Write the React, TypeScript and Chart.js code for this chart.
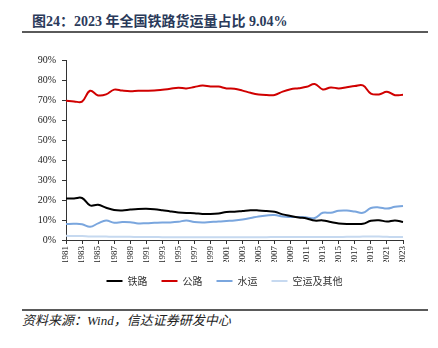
import React, { useEffect, useRef } from "react";
import { Chart, registerables } from "chart.js";

Chart.register(...registerables);

const years: string[] = [
  "1981","1982","1983","1984","1985","1986","1987","1988","1989","1990",
  "1991","1992","1993","1994","1995","1996","1997","1998","1999","2000",
  "2001","2002","2003","2004","2005","2006","2007","2008","2009","2010",
  "2011","2012","2013","2014","2015","2016","2017","2018","2019","2020",
  "2021","2022","2023",
];

const railway: number[] = [
  20.8, 20.8, 21.0, 17.3, 17.6, 16.1, 15.0, 14.8, 15.2, 15.5,
  15.6, 15.4, 14.9, 14.3, 13.8, 13.5, 13.4, 13.0, 13.0, 13.3,
  14.0, 14.1, 14.5, 14.9, 14.8, 14.5, 14.1, 12.8, 12.0, 11.3,
  10.8, 9.7, 9.8, 9.0, 8.3, 8.0, 8.0, 8.1, 9.6, 9.9,
  9.2, 9.8, 9.04,
];

const highway: number[] = [
  69.6, 69.3, 69.2, 74.6, 72.3, 72.8, 75.2, 74.7, 74.4, 74.6,
  74.6, 74.7, 75.1, 75.6, 76.1, 75.8, 76.5, 77.2, 76.8, 76.7,
  75.8, 75.6, 74.7, 73.6, 72.8, 72.5, 72.5, 74.2, 75.4, 75.9,
  76.6, 78.0, 75.3, 76.3, 75.8, 76.4, 77.0, 77.3, 73.2, 72.8,
  74.1, 72.4, 72.6,
];

const waterway: number[] = [
  8.0, 8.1, 7.9, 6.6, 8.3, 9.7, 8.6, 9.0, 8.9, 8.3,
  8.4, 8.6, 8.8, 8.8, 9.1, 9.8, 9.0, 8.8, 9.0, 9.2,
  9.5, 9.8, 10.3, 11.0, 11.8, 12.3, 12.5, 11.7, 11.5, 11.5,
  11.3, 11.0, 13.6, 13.6, 14.6, 14.7, 14.2, 13.6, 16.0, 16.3,
  15.7, 16.6, 17.0,
];

const airOther: number[] = [
  2.1, 2.0, 2.0, 1.8, 1.8, 1.7, 1.6, 1.6, 1.6, 1.5,
  1.5, 1.5, 1.4, 1.4, 1.4, 1.4, 1.4, 1.4, 1.4, 1.4,
  1.4, 1.4, 1.4, 1.4, 1.4, 1.4, 1.5, 1.5, 1.5, 1.5,
  1.5, 1.5, 1.5, 1.5, 1.5, 1.6, 1.6, 1.7, 1.8, 1.7,
  1.6, 1.5, 1.5,
];

const seriesNames: string[] = ["铁路", "公路", "水运", "空运及其他"];
const yTicks: number[] = [0, 10, 20, 30, 40, 50, 60, 70, 80, 90];

const FONT = "'Times New Roman', 'Liberation Serif', 'Noto Sans CJK SC', serif";

const shiftLegend = {
  id: "shiftLegend",
  afterLayout(chart: any) {
    const l = chart.legend;
    if (l) {
      l.left += 18;
      l.right += 18;
    }
  },
};

export default function App() {
  const canvasRef = useRef<HTMLCanvasElement | null>(null);

  useEffect(() => {
    if (!canvasRef.current) return;
    const mk = (label: string, data: number[], color: string) => ({
      label,
      data,
      borderColor: color,
      backgroundColor: color,
      borderWidth: 2,
      pointRadius: 0,
      tension: 0.4,
      fill: false,
    });
    const chart = new Chart(canvasRef.current, {
      type: "line",
      data: {
        labels: years,
        datasets: [
          mk(seriesNames[0], railway, "#000000"),
          mk(seriesNames[1], highway, "#D00000"),
          mk(seriesNames[2], waterway, "#7AA6DE"),
          mk(seriesNames[3], airOther, "#C6D9F0"),
        ],
      },
      plugins: [shiftLegend],
      options: {
        animation: false,
        responsive: false,
        maintainAspectRatio: false,
        layout: { padding: { top: 60, right: 35, bottom: 4, left: 10 } },
        plugins: {
          tooltip: { enabled: false },
          title: { display: false },
          legend: {
            display: true,
            position: "bottom",
            labels: {
              boxWidth: 16,
              boxHeight: 2,
              padding: 14,
              color: "#333",
              font: { family: "'Noto Sans CJK SC', sans-serif", size: 10 },
              generateLabels: (c: any) => {
                const base = Chart.defaults.plugins.legend.labels.generateLabels(c);
                return base.map((l: any) => ({ ...l, lineWidth: 0 }));
              },
            },
          },
        },
        scales: {
          x: {
            offset: false,
            grid: {
              drawOnChartArea: false,
              drawTicks: true,
              tickLength: 4,
              color: "#333",
            },
            border: { display: true, color: "#333", width: 1 },
            ticks: {
              autoSkip: false,
              maxRotation: 90,
              minRotation: 90,
              padding: 2,
              color: "#222",
              font: { family: FONT, size: 9 },
              callback: (_v: any, i: number) => (i % 2 === 0 ? years[i] : null),
            },
            afterFit: (s: any) => {
              s.height = 22;
            },
          },
          y: {
            min: 0,
            max: 90,
            afterBuildTicks: (s: any) => {
              s.ticks = yTicks.map((v) => ({ value: v }));
            },
            grid: {
              drawOnChartArea: false,
              drawTicks: true,
              tickLength: 4,
              color: "#333",
            },
            border: { display: true, color: "#333", width: 1 },
            ticks: {
              padding: 6,
              color: "#222",
              font: { family: FONT, size: 10 },
              callback: (v: any) => `${v}%`,
            },
            afterFit: (s: any) => {
              s.width = 56;
            },
          },
        },
      },
    });
    return () => chart.destroy();
  }, []);

  return (
    <div
      style={{
        position: "fixed",
        left: 0,
        top: 0,
        width: 438,
        height: 348,
        background: "#fff",
        overflow: "hidden",
      }}
    >
      <div
        style={{
          position: "absolute",
          left: 32,
          top: 13,
          fontFamily: FONT,
          fontWeight: "bold",
          fontSize: 14,
          color: "#2A3A5A",
          whiteSpace: "nowrap",
          lineHeight: "18px",
        }}
      >
        图24：2023 年全国铁路货运量占比 9.04%
      </div>
      <div
        style={{
          position: "absolute",
          left: 22,
          top: 31,
          width: 406,
          height: 2,
          background: "#5A5A5A",
        }}
      />
      <canvas
        ref={canvasRef}
        width={438}
        height={300}
        style={{ position: "absolute", left: 0, top: 0, width: 438, height: 300 }}
      />
      <div
        style={{
          position: "absolute",
          left: 22,
          top: 309,
          width: 406,
          height: 2,
          background: "#5A5A5A",
        }}
      />
      <div
        style={{
          position: "absolute",
          left: 22,
          top: 312,
          fontFamily: FONT,
          fontStyle: "italic",
          fontSize: 13,
          color: "#222",
          whiteSpace: "nowrap",
          lineHeight: "17px",
        }}
      >
        资料来源：Wind，信达证券研发中心
      </div>
    </div>
  );
}
